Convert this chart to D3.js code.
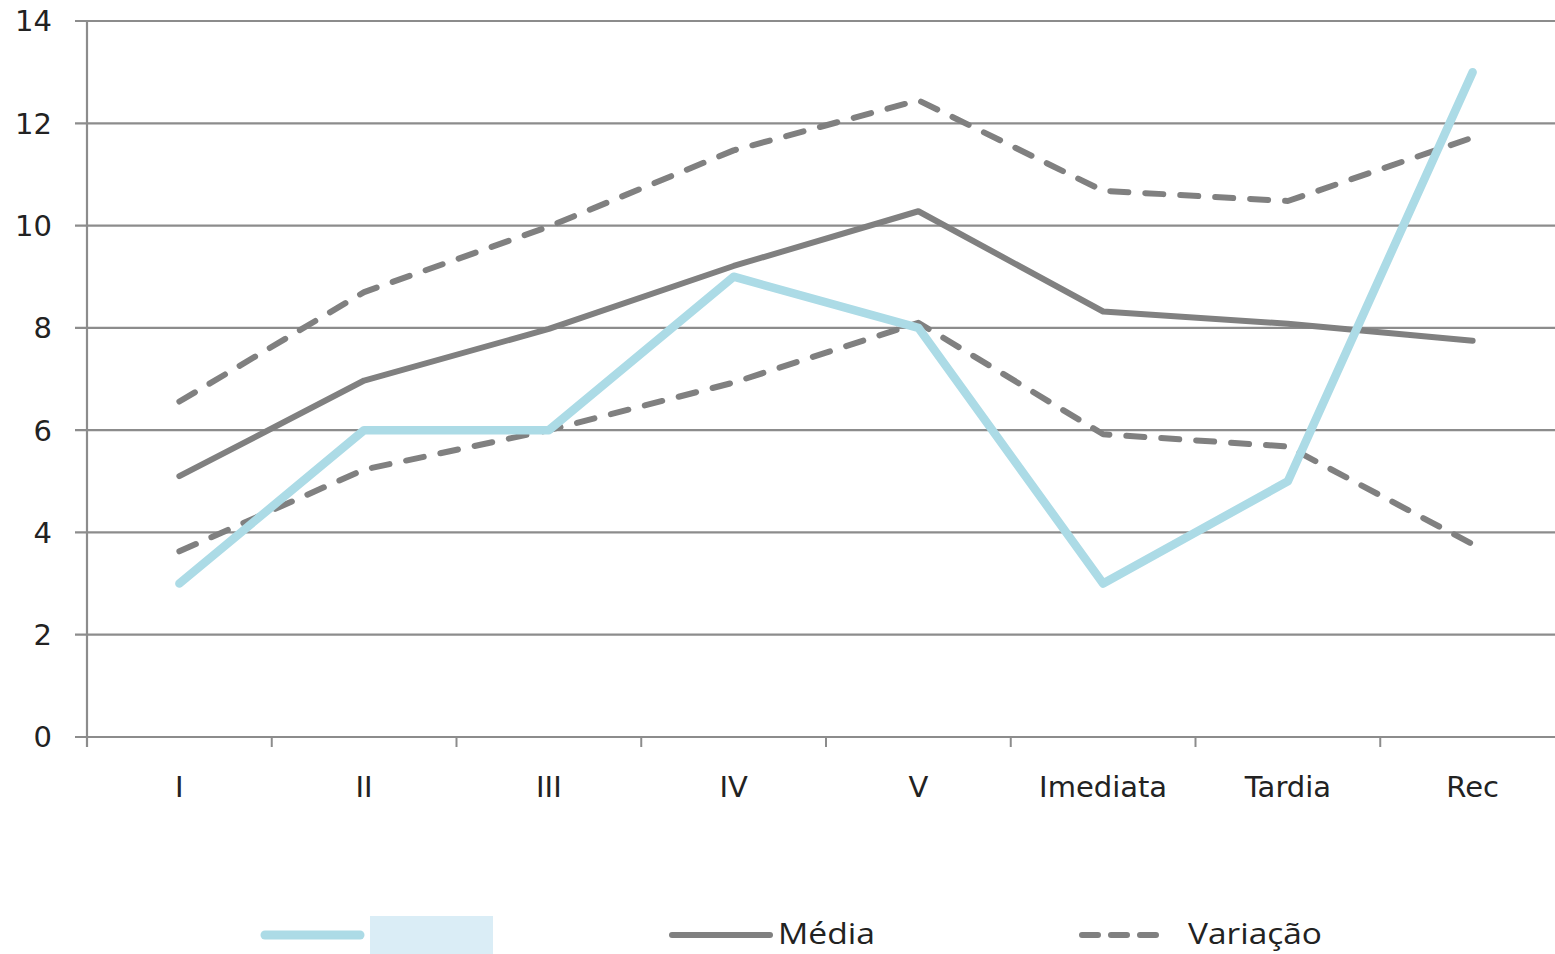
<!DOCTYPE html>
<html><head><meta charset="utf-8">
<script src="https://cdn.jsdelivr.net/npm/d3@7"></script>
<style>html,body{margin:0;padding:0;background:#fff;overflow:hidden}</style>
</head><body>
<svg id="c" width="1555" height="954"></svg>
<script>
const categories = ["I","II","III","IV","V","Imediata","Tardia","Rec"];
const subject = [3, 6, 6, 9, 8, 3, 5, 13];
const media = [5.1, 6.97, 7.98, 9.21, 10.28, 8.32, 8.08, 7.75];
const variacaoUpper = [6.56, 8.7, 9.98, 11.47, 12.45, 10.68, 10.48, 11.72];
const variacaoLower = [3.63, 5.23, 6.0, 6.93, 8.1, 5.92, 5.68, 3.77];
const yTicks = [0, 2, 4, 6, 8, 10, 12, 14];
const legendLabels = ["", "Média", "Variação"];

const svg = d3.select("#c");
const font = "'DejaVu Sans', sans-serif";
const lfont = "'Open Sans', sans-serif";
const x = d3.scaleBand().domain(categories).range([87, 1565]);
const y = d3.scaleLinear().domain([0, 14]).range([737, 21]);
const cx = c => x(c) + x.bandwidth() / 2;

// gridlines
svg.append("g").selectAll("line").data(yTicks).join("line")
  .attr("x1", 75).attr("x2", 1555)
  .attr("y1", d => y(d)).attr("y2", d => y(d))
  .attr("stroke", "#8c8c8c").attr("stroke-width", 2.2);

// y axis line
svg.append("line").attr("x1", 87).attr("x2", 87).attr("y1", y(14)).attr("y2", 747)
  .attr("stroke", "#8c8c8c").attr("stroke-width", 2.2);

// x ticks
const xt = categories.map(c => x(c)).concat([x.range()[1]]);
svg.append("g").selectAll("line").data(xt).join("line")
  .attr("x1", d => d).attr("x2", d => d).attr("y1", 737).attr("y2", 747)
  .attr("stroke", "#8c8c8c").attr("stroke-width", 2);

// y labels
svg.append("g").selectAll("text").data(yTicks).join("text")
  .attr("x", 52).attr("y", d => y(d)).attr("dy", "0.36em")
  .attr("text-anchor", "end").attr("font-family", font).attr("font-size", 29)
  .attr("fill", "#222").text(d => d);

// x labels
svg.append("g").selectAll("text").data(categories).join("text")
  .attr("x", d => cx(d)).attr("y", 797)
  .attr("text-anchor", "middle").attr("font-family", font).attr("font-size", 29)
  .attr("fill", "#222").text(d => d);

const line = d3.line().x((d, i) => cx(categories[i])).y(d => y(d));

function drawLine(data, color, width, dash) {
  svg.append("path").datum(data).attr("d", line)
    .attr("fill", "none").attr("stroke", color).attr("stroke-width", width)
    .attr("stroke-linecap", "round").attr("stroke-linejoin", "round")
    .attr("stroke-dasharray", dash || null);
}
drawLine(variacaoUpper, "#808080", 6, "18,17");
drawLine(variacaoLower, "#808080", 6, "18,17");
drawLine(media, "#808080", 6);
drawLine(subject, "#acdbe6", 8.5);

// legend
const ly = 935;
svg.append("line").attr("x1", 265).attr("x2", 360).attr("y1", ly).attr("y2", ly)
  .attr("stroke", "#acdbe6").attr("stroke-width", 9).attr("stroke-linecap", "round");
svg.append("rect").attr("x", 370).attr("y", 916).attr("width", 123).attr("height", 38)
  .attr("fill", "#daedf6");
svg.append("line").attr("x1", 672).attr("x2", 770).attr("y1", ly).attr("y2", ly)
  .attr("stroke", "#808080").attr("stroke-width", 6).attr("stroke-linecap", "round");
svg.append("text").attr("x", 778).attr("y", 944)
  .attr("font-family", lfont).attr("font-size", 29).attr("fill", "#222")
  .attr("textLength", 97).attr("lengthAdjust", "spacingAndGlyphs").text(legendLabels[1]);
svg.append("line").attr("x1", 1082).attr("x2", 1168).attr("y1", ly).attr("y2", ly)
  .attr("stroke", "#808080").attr("stroke-width", 6).attr("stroke-linecap", "round")
  .attr("stroke-dasharray", "16,13");
svg.append("text").attr("x", 1188).attr("y", 944)
  .attr("font-family", lfont).attr("font-size", 29).attr("fill", "#222")
  .attr("textLength", 134).attr("lengthAdjust", "spacingAndGlyphs").text(legendLabels[2]);
</script>
</body></html>
